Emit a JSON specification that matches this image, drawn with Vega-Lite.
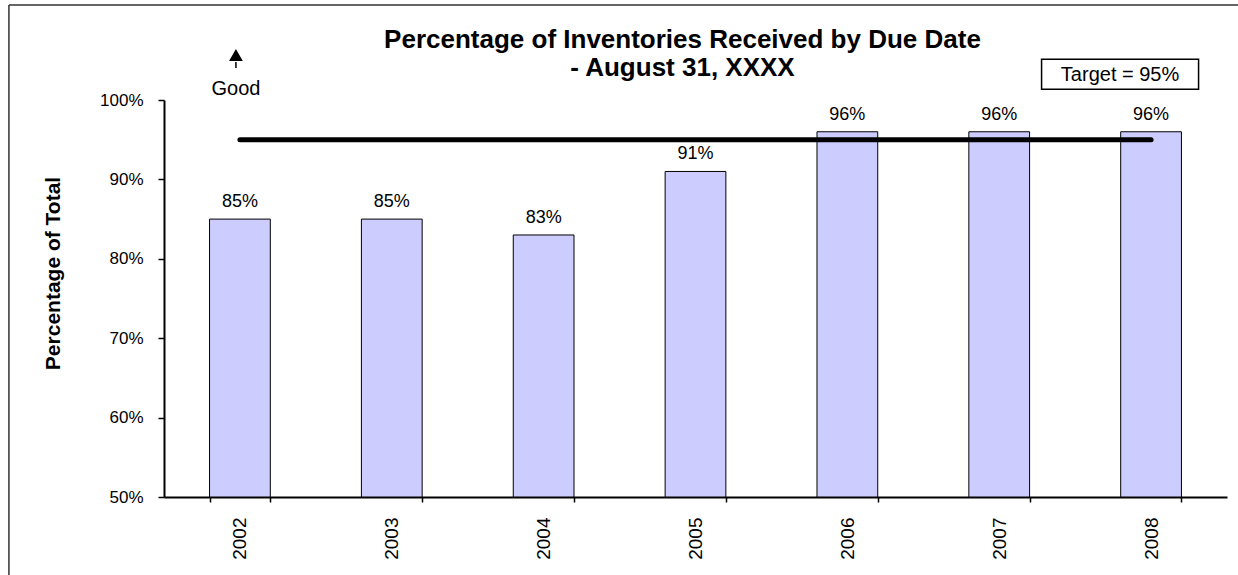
{
  "$schema": "https://vega.github.io/schema/vega-lite/v6.json",
  "width": 1063,
  "height": 397,
  "autosize": "none",
  "padding": {"left": 164, "top": 100, "right": 11, "bottom": 78},
  "background": "white",
  "config": {
    "font": "Liberation Sans",
    "view": {"stroke": null},
    "axis": {"grid": false, "domainColor": "black", "tickColor": "black", "labelColor": "black", "titleColor": "black"}
  },
  "title": {
    "text": ["Percentage of Inventories Received by Due Date", "- August 31, XXXX"],
    "fontSize": 26,
    "fontWeight": "bold",
    "anchor": "middle",
    "frame": "group",
    "dx": -13,
    "offset": -77,
    "lineHeight": 28,
    "color": "black"
  },
  "datasets": {
    "bars": [
      {"year": "2002", "pct": 0.85},
      {"year": "2003", "pct": 0.85},
      {"year": "2004", "pct": 0.83},
      {"year": "2005", "pct": 0.91},
      {"year": "2006", "pct": 0.96},
      {"year": "2007", "pct": 0.96},
      {"year": "2008", "pct": 0.96}
    ],
    "target": [{"year": "2002", "year2": "2008", "pct": 0.95}],
    "frame": [{"year": "2002", "year2": "2008", "top": 1.1196, "bottom": 0.3}],
    "good": [{"year": "2002", "label": "Good", "textY": 1.0063, "headY": 1.0567, "shaftTop": 1.048, "shaftBottom": 1.0403}],
    "targetBox": [{"year": "2008", "label": "Target = 95%", "boxTop": 1.0513, "boxBottom": 1.0135, "textY": 1.031}]
  },
  "layer": [
    {
      "data": {"name": "frame"},
      "mark": {"type": "rule", "color": "#333333", "strokeWidth": 1.5, "xOffset": -231, "x2Offset": 200},
      "encoding": {
        "x": {"field": "year", "type": "nominal"},
        "x2": {"field": "year2"},
        "y": {"field": "top", "type": "quantitative"}
      }
    },
    {
      "data": {"name": "frame"},
      "mark": {"type": "rule", "color": "#333333", "strokeWidth": 1.5, "xOffset": -231},
      "encoding": {
        "x": {"field": "year", "type": "nominal"},
        "y": {"field": "top", "type": "quantitative"},
        "y2": {"field": "bottom"}
      }
    },
    {
      "data": {"name": "bars"},
      "mark": {"type": "bar", "fill": "#CCCCFF", "stroke": "black", "strokeWidth": 1},
      "encoding": {
        "x": {
          "field": "year",
          "type": "nominal",
          "sort": null,
          "scale": {"paddingInner": 0.6, "paddingOuter": 0.3},
          "axis": {
            "title": null,
            "labelAngle": -90,
            "labelFontSize": 19,
            "labelPadding": 15,
            "tickBand": "extent",
            "tickSize": 5,
            "tickWidth": 1.5,
            "domainWidth": 2
          }
        },
        "y": {
          "field": "pct",
          "type": "quantitative",
          "scale": {"domain": [0.5, 1], "nice": false, "zero": false},
          "axis": {
            "title": "Percentage of Total",
            "titleFontSize": 21,
            "titleFontWeight": "bold",
            "titleAngle": -90,
            "titleX": -111,
            "titleY": 173,
            "titleAlign": "center",
            "titleBaseline": "middle",
            "values": [0.5, 0.6, 0.7, 0.8, 0.9, 1.0],
            "format": ".0%",
            "labelFontSize": 17,
            "labelPadding": 15,
            "tickSize": 6,
            "tickWidth": 1.5,
            "domainWidth": 2
          }
        },
        "y2": {"datum": 0.5}
      }
    },
    {
      "data": {"name": "bars"},
      "mark": {"type": "text", "baseline": "alphabetic", "dy": -12, "fontSize": 18, "color": "black"},
      "encoding": {
        "x": {"field": "year", "type": "nominal"},
        "y": {"field": "pct", "type": "quantitative"},
        "text": {"field": "pct", "type": "quantitative", "format": ".0%"}
      }
    },
    {
      "data": {"name": "target"},
      "mark": {"type": "rule", "color": "black", "strokeWidth": 5, "strokeCap": "round"},
      "encoding": {
        "x": {"field": "year", "type": "nominal"},
        "x2": {"field": "year2"},
        "y": {"field": "pct", "type": "quantitative"}
      }
    },
    {
      "data": {"name": "good"},
      "mark": {"type": "text", "baseline": "alphabetic", "fontSize": 20, "color": "black", "dx": -4},
      "encoding": {
        "x": {"field": "year", "type": "nominal"},
        "y": {"field": "textY", "type": "quantitative"},
        "text": {"field": "label"}
      }
    },
    {
      "data": {"name": "good"},
      "mark": {"type": "point", "shape": "triangle-up", "filled": true, "color": "black", "size": 190, "opacity": 1, "xOffset": -4},
      "encoding": {
        "x": {"field": "year", "type": "nominal"},
        "y": {"field": "headY", "type": "quantitative"}
      }
    },
    {
      "data": {"name": "good"},
      "mark": {"type": "rule", "color": "black", "strokeWidth": 1.5, "xOffset": -4},
      "encoding": {
        "x": {"field": "year", "type": "nominal"},
        "y": {"field": "shaftTop", "type": "quantitative"},
        "y2": {"field": "shaftBottom"}
      }
    },
    {
      "data": {"name": "targetBox"},
      "mark": {"type": "bar", "fill": "white", "stroke": "black", "strokeWidth": 1.5, "width": 157, "xOffset": -31},
      "encoding": {
        "x": {"field": "year", "type": "nominal"},
        "y": {"field": "boxTop", "type": "quantitative"},
        "y2": {"field": "boxBottom"}
      }
    },
    {
      "data": {"name": "targetBox"},
      "mark": {"type": "text", "baseline": "middle", "fontSize": 20, "color": "black", "dx": -31},
      "encoding": {
        "x": {"field": "year", "type": "nominal"},
        "y": {"field": "textY", "type": "quantitative"},
        "text": {"field": "label"}
      }
    }
  ]
}
